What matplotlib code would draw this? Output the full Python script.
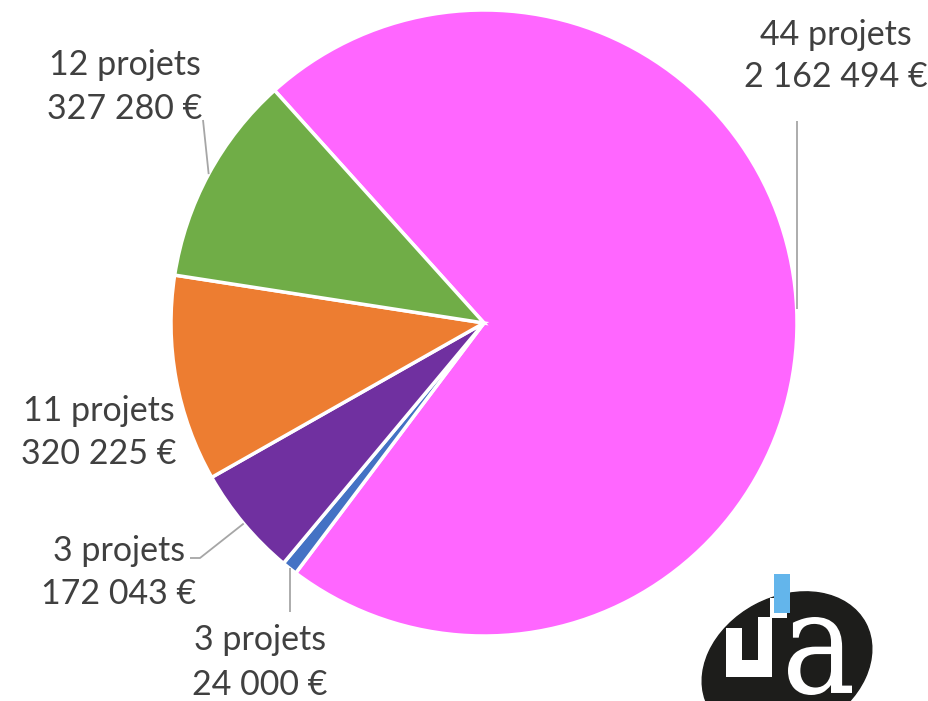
import numpy as np
import matplotlib
matplotlib.use('Agg')
import matplotlib.pyplot as plt
from matplotlib.patches import Ellipse, Rectangle, Polygon, PathPatch
from matplotlib.textpath import TextPath
from matplotlib.font_manager import FontProperties
from matplotlib.transforms import Affine2D

# donnees (ordre horaire depuis le haut-gauche)
projets = [44, 3, 3, 11, 12]
montants = [2162494, 24000, 172043, 320225, 327280]
couleurs = ['#FF66FF', '#4472C4', '#7030A0', '#ED7D31', '#70AD47']

W, H = 929, 701
def py(y):
    return H - y

fig = plt.figure(figsize=(W / 100, H / 100), dpi=100)
ax = fig.add_axes([0, 0, 1, 1])

cx, cy, r = 484, py(323), 313
wedges, _ = ax.pie(montants, colors=couleurs, startangle=132, counterclock=False,
                   center=(cx, cy), radius=r,
                   wedgeprops=dict(edgecolor='white', linewidth=2.5))
ax.set_xlim(0, W)
ax.set_ylim(0, H)
ax.set_aspect('auto')
ax.axis('off')

def fmt(v):
    return f"{v:,}".replace(",", " ") + " €"

# positions des etiquettes (centre x, y ligne 1, y ligne 2) en pixels
pos_lab = [(836, 35, 77), (260, 640, 685), (119, 551, 594), (99, 411, 454), (125, 65, 109)]
# bout des traits de rappel (None = pas de trait)
traits = [[(None, 121)], [(None, 612)], [(200, 558), (190, 558)], None, [(203, 120)]]

txt = dict(fontsize=24.5, color='#404040', family=['Lato', 'DejaVu Sans'], ha='center', va='center')
for w, n, m, (lx, y1, y2), tr in zip(wedges, projets, montants, pos_lab, traits):
    ax.text(lx, py(y1), f"{n} projets", **txt)
    ax.text(lx, py(y2), fmt(m), **txt)
    if tr is None:
        continue
    a = np.deg2rad((w.theta1 + w.theta2) / 2)
    ex, ey = cx + r * np.cos(a), cy + r * np.sin(a)
    xs, ys = [ex], [ey]
    for (tx, ty) in tr:
        xs.append(ex if tx is None else tx)
        ys.append(py(ty))
    ax.plot(xs, ys, color='#A6A6A6', lw=1.3, solid_capstyle='butt')

# logo
ax.add_patch(Ellipse((787, py(665)), 178, 136, angle=28, color='#1D1D1B', zorder=5))
ax.add_patch(Polygon([(726, py(628)), (742, py(628)), (742, py(660)), (758, py(660)),
                      (758, py(617)), (772, py(617)), (772, py(677)), (726, py(677))],
                     closed=True, color='white', lw=0, zorder=6))
ax.add_patch(Rectangle((770, py(618)), 17, 20, color='white', lw=0, zorder=6))
ax.add_patch(Rectangle((774, py(613)), 16, 39, color='#63B5EB', lw=0, zorder=7))
tp = TextPath((0, 0), "a", size=100, prop=FontProperties(family='DejaVu Serif'))
bb = tp.get_extents()
x0, x1, y0, y1 = 788, 852, py(695), py(617)
tr = Affine2D().translate(-bb.x0, -bb.y0).scale((x1 - x0) / bb.width, (y1 - y0) / bb.height).translate(x0, y0)
ax.add_patch(PathPatch(tr.transform_path(tp), color='white', lw=0, zorder=7))

fig.savefig('out.png', dpi=100)
